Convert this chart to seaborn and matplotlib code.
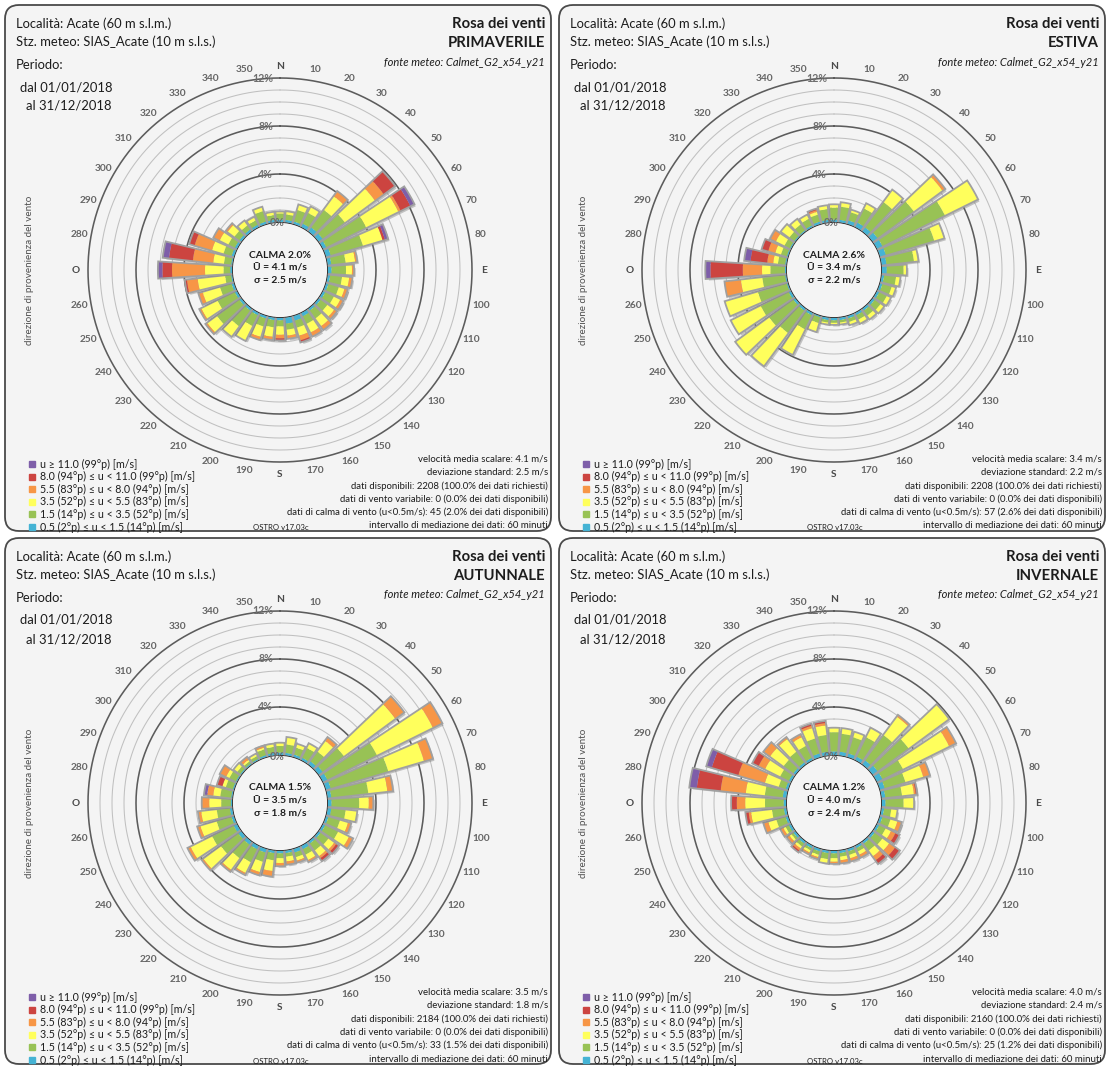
import numpy as np
import matplotlib
matplotlib.use("Agg")
import matplotlib.pyplot as plt
import matplotlib.patheffects as pe
from matplotlib.patches import FancyBboxPatch, Rectangle
import seaborn as sns

sns.set_theme(style="white")
plt.rcParams["font.family"] = ["Lato", "DejaVu Sans"]

W, H, DPI = 1110, 1068, 100

# ---------------------------------------------------------------- data
directions = list(range(0, 360, 10))

# speed classes, from the lowest to the highest (m/s)
class_colors = ["#45b3d4", "#98c255", "#ffff5c", "#f79646", "#cc4440", "#7e5ea9"]
legend_labels = [
    "u \u2265 11.0 (99\u00b0p) [m/s]",
    "8.0 (94\u00b0p) \u2264 u < 11.0 (99\u00b0p) [m/s]",
    "5.5 (83\u00b0p) \u2264 u < 8.0 (94\u00b0p) [m/s]",
    "3.5 (52\u00b0p) \u2264 u < 5.5 (83\u00b0p) [m/s]",
    "1.5 (14\u00b0p) \u2264 u < 3.5 (52\u00b0p) [m/s]",
    "0.5 (2\u00b0p) \u2264 u < 1.5 (14\u00b0p) [m/s]",
]

seasons = ["PRIMAVERILE", "ESTIVA", "AUTUNNALE", "INVERNALE"]
mean_speed = [4.1, 3.4, 3.5, 4.0]
std_speed = [2.5, 2.2, 1.8, 2.4]
available = [2208, 2208, 2184, 2160]
calm_count = [45, 57, 33, 25]
calm_pct = [2.0, 2.6, 1.5, 1.2]

# frequency (%) per direction sector, one column per speed class
primaverile = [
    [0.2, 0.5, 0.1, 0, 0, 0], [0.2, 0.45, 0.2, 0, 0, 0], [0.2, 1.0, 0.4, 0, 0, 0],
    [0.3, 1.0, 0.5, 0, 0, 0], [0.4, 1.8, 1.4, 0.45, 0, 0], [0.4, 2.3, 3.1, 0.9, 1.1, 0],
    [0.3, 3.7, 3.0, 0.2, 0.9, 0.3], [0.4, 2.8, 1.7, 0, 0.2, 0.2], [0.3, 1.2, 0.8, 0.1, 0, 0],
    [0.3, 1.2, 0.5, 0.1, 0, 0], [0.2, 1.0, 0.6, 0.2, 0, 0], [0.2, 0.9, 0.5, 0.2, 0, 0],
    [0.2, 0.8, 0.6, 0.2, 0, 0], [0.2, 0.7, 0.7, 0.2, 0, 0], [0.2, 0.8, 0.8, 0.3, 0, 0],
    [0.3, 0.7, 0.8, 0.3, 0, 0], [0.4, 0.6, 0.7, 0.4, 0.1, 0], [0.5, 0.5, 0.5, 0.2, 0, 0],
    [0.2, 0.5, 0.7, 0.3, 0.1, 0], [0.2, 0.6, 0.8, 0.2, 0, 0], [0.2, 0.7, 0.9, 0.2, 0, 0],
    [0.2, 1.0, 1.3, 0, 0, 0], [0.2, 1.6, 1.0, 0, 0, 0], [0.2, 2.3, 1.0, 0.1, 0, 0],
    [0.2, 1.6, 1.5, 0.1, 0, 0], [0.2, 1.0, 1.5, 0.3, 0, 0], [0.1, 0.5, 2.3, 0.9, 0.1, 0],
    [0.15, 0.55, 1.55, 2.75, 0.8, 0.3], [0.1, 0.6, 0.9, 1.7, 2.0, 0.45], [0.2, 0.7, 1.0, 1.5, 0.4, 0],
    [0.2, 0.6, 0.8, 0.5, 0, 0], [0.2, 0.5, 0.7, 0.1, 0, 0], [0.2, 0.4, 0.4, 0, 0, 0],
    [0.2, 0.4, 0.25, 0, 0, 0], [0.2, 0.9, 0.3, 0, 0, 0], [0.2, 0.4, 0.2, 0, 0, 0],
]
estiva = [
    [0.2, 1.0, 0.2, 0, 0, 0], [0.2, 1.1, 0.3, 0, 0, 0], [0.3, 0.7, 0.15, 0, 0, 0],
    [0.4, 1.3, 0.4, 0, 0, 0], [0.4, 2.6, 1.2, 0, 0, 0], [0.5, 3.75, 2.95, 0.2, 0, 0],
    [0.5, 5.8, 3.0, 0, 0, 0], [0.5, 4.2, 0.8, 0, 0, 0], [0.4, 2.3, 0.3, 0, 0, 0],
    [0.4, 1.4, 0.2, 0, 0, 0], [0.2, 1.0, 0.3, 0, 0, 0], [0.2, 0.8, 0.3, 0, 0, 0],
    [0.2, 0.7, 0.3, 0, 0, 0], [0.2, 0.6, 0.3, 0, 0, 0], [0.2, 0.5, 0.3, 0, 0, 0],
    [0.2, 0.4, 0.3, 0, 0, 0], [0.2, 0.3, 0.2, 0, 0, 0], [0.2, 0.2, 0.1, 0, 0, 0],
    [0.2, 0.2, 0.1, 0, 0, 0], [0.2, 0.2, 0.1, 0, 0, 0], [0.1, 0.5, 0.7, 0, 0, 0],
    [0.2, 1.3, 2.3, 0, 0, 0], [0.2, 2.3, 3.35, 0, 0, 0], [0.2, 2.5, 3.4, 0, 0, 0],
    [0.2, 2.6, 2.7, 0, 0, 0], [0.1, 2.5, 2.8, 0, 0, 0], [0.1, 1.9, 1.8, 1.3, 0, 0],
    [0.1, 1.2, 0.7, 1.6, 2.7, 0.35], [0.1, 0.6, 0.4, 0.5, 1.4, 0.45], [0.1, 0.5, 0.5, 0.6, 0.5, 0],
    [0.1, 0.5, 0.8, 0.45, 0, 0], [0.1, 0.5, 0.8, 0, 0, 0], [0.1, 0.6, 0.47, 0, 0, 0],
    [0.15, 0.6, 0.3, 0, 0, 0], [0.2, 0.6, 0.25, 0.15, 0.05, 0], [0.2, 0.9, 0.25, 0, 0, 0],
]
autunnale = [
    [0.2, 0.55, 0.2, 0, 0, 0], [0.2, 0.7, 0.55, 0, 0, 0], [0.2, 0.6, 0.26, 0, 0, 0],
    [0.2, 0.9, 0.35, 0, 0, 0], [0.3, 1.0, 1.1, 0.3, 0, 0], [0.4, 2.2, 5.3, 0.85, 0, 0],
    [0.4, 4.6, 5.2, 0.8, 0, 0], [0.4, 5.0, 3.1, 0.7, 0, 0], [0.3, 3.1, 1.6, 0.4, 0, 0],
    [0.3, 2.3, 0.8, 0.3, 0, 0], [0.3, 1.2, 0.9, 0, 0, 0], [0.2, 1.0, 0.7, 0.2, 0, 0],
    [0.2, 1.2, 1.0, 0.3, 0, 0], [0.2, 0.8, 0.6, 0.2, 0.2, 0], [0.2, 0.7, 0.6, 0.2, 0.2, 0],
    [0.3, 0.5, 0.5, 0.1, 0, 0], [0.3, 0.4, 0.3, 0.1, 0, 0], [0.2, 0.3, 0.4, 0.2, 0, 0],
    [0.2, 0.4, 0.4, 0.2, 0, 0], [0.2, 0.6, 0.9, 0.4, 0, 0], [0.3, 0.8, 0.9, 0.2, 0, 0],
    [0.3, 1.2, 1.0, 0.1, 0, 0], [0.3, 1.4, 1.2, 0.1, 0, 0], [0.3, 1.8, 1.8, 0.1, 0, 0],
    [0.3, 2.0, 2.0, 0.2, 0, 0], [0.2, 1.3, 1.4, 0.2, 0, 0], [0.2, 1.1, 1.3, 0.2, 0, 0],
    [0.1, 0.8, 1.0, 0.55, 0, 0], [0.1, 0.9, 0.6, 0.5, 0, 0.2], [0.1, 0.6, 0.3, 0, 0.4, 0],
    [0.1, 0.6, 0.3, 0.5, 0, 0], [0.1, 0.3, 0.3, 0, 0, 0], [0.1, 0.2, 0.15, 0.2, 0, 0],
    [0.1, 0.25, 0.15, 0, 0, 0], [0.15, 0.5, 0.15, 0.1, 0, 0], [0.2, 0.5, 0.2, 0, 0, 0],
]
invernale = [
    [0.3, 1.6, 0.3, 0, 0, 0], [0.3, 1.5, 0.4, 0, 0, 0], [0.3, 1.4, 0.4, 0, 0, 0],
    [0.3, 1.8, 0.8, 0, 0, 0], [0.4, 2.6, 1.9, 0.1, 0, 0], [0.5, 3.2, 4.1, 0, 0, 0],
    [0.5, 1.9, 4.3, 0.55, 0, 0], [0.4, 1.8, 1.55, 0.5, 0, 0], [0.3, 1.4, 1.0, 0.15, 0.05, 0],
    [0.3, 1.5, 0.8, 0, 0, 0], [0.2, 0.6, 0.45, 0, 0, 0], [0.2, 0.7, 0.6, 0.3, 0, 0],
    [0.2, 0.6, 0.5, 0.4, 0.3, 0], [0.2, 0.8, 0.7, 0.6, 0.4, 0], [0.2, 0.7, 0.6, 0.4, 0.3, 0],
    [0.2, 0.3, 0.3, 0.2, 0, 0], [0.2, 0.3, 0.3, 0.2, 0, 0], [0.2, 0.3, 0.3, 0.2, 0, 0],
    [0.2, 0.4, 0.3, 0.1, 0, 0], [0.2, 0.5, 0.3, 0, 0, 0], [0.2, 0.3, 0.2, 0.1, 0, 0],
    [0.2, 0.2, 0.2, 0.1, 0, 0], [0.2, 0.3, 0.2, 0.2, 0.1, 0], [0.2, 0.2, 0.2, 0.2, 0, 0],
    [0.2, 0.3, 0.2, 0.2, 0, 0], [0.2, 0.8, 0.7, 0.35, 0, 0], [0.2, 1.0, 1.75, 0.2, 0.2, 0],
    [0.2, 1.55, 1.65, 0.7, 0.4, 0], [0.3, 1.5, 1.6, 2.1, 2.0, 0.55], [0.2, 0.6, 1.2, 2.3, 2.3, 0.4],
    [0.2, 0.8, 1.4, 0.6, 0.5, 0], [0.2, 1.0, 1.4, 0.6, 0, 0], [0.2, 1.1, 1.3, 0.1, 0, 0],
    [0.2, 1.1, 0.8, 0.2, 0, 0], [0.3, 1.3, 0.9, 0.2, 0.1, 0], [0.3, 1.4, 0.8, 0.2, 0.1, 0],
]
season_data = [primaverile, estiva, autunnale, invernale]

# ---------------------------------------------------------------- layout
PANEL_ORIGINS = [(0, 0), (554, 0), (0, 533), (554, 533)]
CENTER = (280, 270)      # rose centre inside a panel (px)
HOLE = 48                # radius of the calm circle (px)
PX_PER_PCT = 12          # radial scale (px per %)
RMAX = 12

palette = sns.color_palette(class_colors)

fig = plt.figure(figsize=(W / DPI, H / DPI), dpi=DPI)
fig.patch.set_facecolor("white")
renderer = fig.canvas.get_renderer()


def fit(text, target_px, **kw):
    t = fig.text(0, 0, text, fontsize=10, **kw)
    w = t.get_window_extent(renderer=renderer).width
    t.remove()
    return 10.0 * target_px / w


fs_head = fit("Stz. meteo: SIAS_Acate (10 m s.l.s.)", 199)
fs_title = fit("Rosa dei venti", 93, weight="bold")
fs_src = fit("fonte meteo: Calmet_G2_x54_y21", 160, style="italic")
fs_stat = fit("dati di calma di vento (u<0.5m/s): 45 (2.0% dei dati disponibili)", 261)
fs_leg = fit(legend_labels[1], 155)
fs_ostro = fit("OSTRO v17.03c", 55)
fs_calm = fit("CALMA 2.0%", 62, weight="bold")
fs_dir = fit("350", 17.5, weight="bold")
fs_ring = fit("12%", 21, weight="bold")
fs_ylab = fit("direzione di provenienza del vento", 150)

ax_bg = fig.add_axes([0, 0, 1, 1], zorder=0)
ax_bg.set_xlim(0, W)
ax_bg.set_ylim(H, 0)
ax_bg.axis("off")

ax_fg = fig.add_axes([0, 0, 1, 1], zorder=20)
ax_fg.set_xlim(0, W)
ax_fg.set_ylim(H, 0)
ax_fg.axis("off")

theta = np.deg2rad(directions)
bar_width = np.deg2rad(7.2)
ring_t = np.linspace(0, 2 * np.pi, 721)
compass = {0: "N", 90: "E", 180: "S", 270: "O"}

for i, (ox, oy) in enumerate(PANEL_ORIGINS):
    # panel frame
    ax_bg.add_patch(FancyBboxPatch((ox + 5, oy + 5), 546, 526,
                                   boxstyle="round,pad=0,rounding_size=14",
                                   fc="#f4f4f4", ec="#4a4a4a", lw=1.3))

    cx, cy = ox + CENTER[0], oy + CENTER[1]
    R = HOLE + PX_PER_PCT * RMAX
    ax = fig.add_axes([(cx - R) / W, 1 - (cy + R) / H, 2 * R / W, 2 * R / H],
                      projection="polar", zorder=5)
    ax.set_theta_zero_location("N")
    ax.set_theta_direction(-1)
    ax.set_rlim(0, RMAX)
    ax.set_rorigin(-HOLE / PX_PER_PCT)
    ax.set_xticks([])
    ax.set_yticks([])
    ax.grid(False)
    ax.spines["polar"].set_visible(False)
    ax.patch.set_visible(False)

    # rings every 1 %, darker every 4 %
    for r in range(0, RMAX + 1):
        dark = r in (4, 8, 12)
        ax.plot(ring_t, np.full_like(ring_t, r),
                color="#5c5c5c" if dark else "#c0c0c0",
                lw=1.15 if dark else 0.75, zorder=1, clip_on=False)

    vals = np.array(season_data[i], dtype=float)
    totals = vals.sum(axis=1)
    ax.bar(theta, totals, width=bar_width, bottom=0, facecolor="none",
           edgecolor="#a0a0a0", lw=2.6, zorder=3,
           path_effects=[pe.SimplePatchShadow(offset=(1.8, -1.8),
                                              shadow_rgbFace="#767676", alpha=0.4),
                         pe.Normal()])
    base = np.zeros(len(directions))
    for k in range(vals.shape[1]):
        ax.bar(theta, vals[:, k], width=bar_width, bottom=base,
               color=palette[k], edgecolor="none", lw=0, zorder=4)
        base += vals[:, k]

    # direction labels
    for d in directions:
        lab = compass.get(d, str(d))
        ax.text(np.deg2rad(d), 13.0, lab, ha="center", va="center",
                fontsize=fs_dir, weight="bold",
                color="#4a4a4a" if d in compass else "#656565", zorder=6)

    # ring labels
    for v in (4, 8, 12):
        ax_fg.text(cx - 7, cy - (HOLE + PX_PER_PCT * v), f"{v}%", ha="right",
                   va="center", fontsize=fs_ring, weight="bold", color="#6e6e6e")
    ax_fg.text(cx - 3, cy - HOLE + 1, "0%", ha="center", va="center",
               fontsize=fs_ring, weight="bold", color="#6e6e6e")

    # centre summary
    ax_fg.text(cx, cy - 15, f"CALMA {calm_pct[i]:.1f}%", ha="center", va="center",
               fontsize=fs_calm, weight="bold", color="#1e1e1e")
    ax_fg.text(cx, cy - 2, f"\u016a = {mean_speed[i]:.1f} m/s", ha="center", va="center",
               fontsize=fs_calm, weight="bold", color="#1e1e1e")
    ax_fg.text(cx, cy + 10, f"\u03c3 = {std_speed[i]:.1f} m/s", ha="center", va="center",
               fontsize=fs_calm, weight="bold", color="#1e1e1e")

    # header
    hc = "#1c1c1c"
    ax_fg.text(ox + 16, oy + 24, "Localit\u00e0: Acate (60 m s.l.m.)", ha="left",
               va="center", fontsize=fs_head, color=hc)
    ax_fg.text(ox + 16, oy + 42, "Stz. meteo: SIAS_Acate (10 m s.l.s.)", ha="left",
               va="center", fontsize=fs_head, color=hc)
    ax_fg.text(ox + 16, oy + 65, "Periodo:", ha="left", va="center",
               fontsize=fs_head, color=hc)
    ax_fg.text(ox + 112, oy + 87, "dal 01/01/2018", ha="right", va="center",
               fontsize=fs_head, color=hc)
    ax_fg.text(ox + 112, oy + 106, "al 31/12/2018", ha="right", va="center",
               fontsize=fs_head, color=hc)
    ax_fg.text(ox + 545, oy + 24, "Rosa dei venti", ha="right", va="center",
               fontsize=fs_title, weight="bold", color=hc)
    ax_fg.text(ox + 545, oy + 43, seasons[i], ha="right", va="center",
               fontsize=fs_title, weight="bold", color=hc)
    ax_fg.text(ox + 545, oy + 62, "fonte meteo: Calmet_G2_x54_y21", ha="right",
               va="center", fontsize=fs_src, style="italic", color=hc)

    ax_fg.text(ox + 30, oy + 270, "direzione di provenienza del vento", rotation=90,
               ha="center", va="center", fontsize=fs_ylab, color="#505050")

    # legend (highest class on top)
    for j, lab in enumerate(legend_labels):
        y = oy + 464 + j * 12.6
        ax_fg.add_patch(Rectangle((ox + 29, y - 3), 6, 6,
                                  color=palette[len(legend_labels) - 1 - j]))
        ax_fg.text(ox + 40, y, lab, ha="left", va="center", fontsize=fs_leg, color=hc)

    # statistics
    stats = [
        f"velocit\u00e0 media scalare: {mean_speed[i]:.1f} m/s",
        f"deviazione standard: {std_speed[i]:.1f} m/s",
        f"dati disponibili: {available[i]} (100.0% dei dati richiesti)",
        "dati di vento variabile: 0 (0.0% dei dati disponibili)",
        f"dati di calma di vento (u<0.5m/s): {calm_count[i]} ({calm_pct[i]:.1f}% dei dati disponibili)",
        "intervallo di mediazione dei dati: 60 minuti",
    ]
    for j, s in enumerate(stats):
        ax_fg.text(ox + 548, oy + 459 + j * 13.4, s, ha="right", va="center",
                   fontsize=fs_stat, color=hc)
    ax_fg.text(ox + 253, oy + 528, "OSTRO v17.03c", ha="left", va="center",
               fontsize=fs_ostro, color=hc)

fig.savefig("out.png", dpi=DPI, facecolor="white")
